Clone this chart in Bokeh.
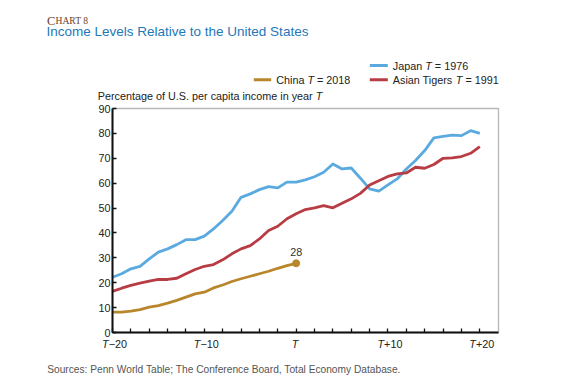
from bokeh.plotting import figure
from bokeh.models import Range1d, FixedTicker, Label, Arrow, BoxAnnotation
from bokeh.embed import file_html
from bokeh.resources import INLINE

# ---------------- data ----------------
years_long = list(range(-20, 21))
years_china = list(range(-20, 1))
japan = [22.2, 23.6, 25.6, 26.6, 29.6, 32.3, 33.6, 35.3, 37.3, 37.3, 38.7,
         41.6, 45.0, 48.7, 54.3, 55.7, 57.4, 58.6, 58.1, 60.4, 60.4,
         61.3, 62.6, 64.4, 67.7, 65.7, 66.1, 62.0, 57.7, 56.8, 59.3,
         61.7, 65.7, 69.1, 73.1, 78.2, 78.8, 79.3, 79.1, 81.1, 80.0]
tigers = [16.5, 17.8, 18.9, 19.8, 20.6, 21.3, 21.3, 21.8, 23.6, 25.3, 26.6,
          27.3, 29.2, 31.6, 33.6, 34.9, 37.6, 41.0, 42.7, 45.7, 47.7,
          49.4, 50.1, 51.0, 50.1, 51.9, 53.7, 55.9, 59.3, 61.0, 62.7,
          63.7, 64.1, 66.4, 66.0, 67.5, 70.0, 70.2, 70.7, 72.0, 74.7]
china = [8.2, 8.2, 8.6, 9.2, 10.2, 10.8, 11.8, 12.9, 14.2, 15.5, 16.2,
         17.9, 19.1, 20.5, 21.6, 22.6, 23.6, 24.6, 25.8, 26.9, 27.8]
x_tick_values = [-20, -10, 0, 10, 20]
x_tick_suffix = ["\u221220", "\u221210", "", "+10", "+20"]
y_ticks = [0, 10, 20, 30, 40, 50, 60, 70, 80, 90]
x_lo, x_hi = -20, 20
y_lo, y_hi = 0, 90

C_CHINA = "#b8862b"
C_JAPAN = "#5aaae0"
C_TIGER = "#b83c44"
C_TITLE = "#2378b8"
FONT = "Liberation Sans"

# ---------------- layout (page px) ----------------
W, H = 572, 378
FL, FR, FT, FB = 30, W - 2, 2, H - 2     # frame covering (almost) all of the canvas
PL, PR, PT, PB = 112, 498, 108, 332       # visible plot box
k = (479.3 - PL) / (x_hi - x_lo)          # px per year
s = (PB - PT) / (y_hi - y_lo)             # px per unit

def X(px):
    return x_lo + (px - PL) / k

def Y(py):
    return y_lo + (PB - py) / s

p = figure(width=W, height=H, output_backend="svg", toolbar_location=None,
           x_range=Range1d(X(FL), X(FR)), y_range=Range1d(Y(FB), Y(FT)),
           min_border_left=FL, min_border_right=W - FR,
           min_border_top=FT, min_border_bottom=H - FB)
p.background_fill_color = "white"
p.border_fill_color = "white"
p.outline_line_color = None
p.xgrid.visible = False
p.ygrid.visible = False

x_right = X(PR)

# plot box
p.add_layout(BoxAnnotation(left=x_lo, right=x_right, bottom=y_lo, top=y_hi,
                           fill_color=None, line_color="#111111", line_width=1.3))

# axes (library axes pinned to the plot box)
p.yaxis.fixed_location = x_lo
p.yaxis.bounds = (y_lo, y_hi)
p.yaxis.ticker = FixedTicker(ticks=y_ticks)
p.yaxis.major_tick_in = 4
p.yaxis.major_tick_out = 0
p.yaxis.minor_tick_line_color = None
p.yaxis.axis_line_width = 2
p.yaxis.axis_line_color = "#111111"
p.yaxis.major_tick_line_color = "#111111"
p.yaxis.major_tick_line_width = 1.3
p.yaxis.major_label_standoff = 2
p.yaxis.major_label_text_font = FONT
p.yaxis.major_label_text_font_size = "10.8px"
p.yaxis.major_label_text_color = "#222222"

p.xaxis.fixed_location = y_lo
p.xaxis.bounds = (x_lo, x_right)
p.xaxis.ticker = FixedTicker(ticks=[], minor_ticks=list(range(x_lo, x_hi + 1, 2)))
p.xaxis.minor_tick_in = 4
p.xaxis.minor_tick_out = 0
p.xaxis.minor_tick_line_color = "#111111"
p.xaxis.minor_tick_line_width = 1.3
p.xaxis.axis_line_width = 2
p.xaxis.axis_line_color = "#111111"
p.xaxis.major_label_standoff = 0

# series
p.line(years_long, japan, line_color=C_JAPAN, line_width=2.8, line_join="round")
p.line(years_long, tigers, line_color=C_TIGER, line_width=2.8, line_join="round")
p.line(years_china, china, line_color=C_CHINA, line_width=2.8, line_join="round")
p.scatter([years_china[-1]], [china[-1]], size=7, color=C_CHINA)

# ---------------- text helpers ----------------
AW = {' ': 278, '.': 278, ';': 278, ',': 278, ':': 278, '=': 584, '+': 584,
      '\u2212': 584, 'A': 667, 'B': 667, 'C': 722, 'D': 722, 'E': 667,
      'J': 500, 'P': 667, 'S': 667, 'T': 611, 'U': 722, 'W': 944,
      'I': 278, 'L': 556, 'R': 722, 'a': 556, 'b': 556, 'c': 500, 'd': 556,
      'e': 556, 'f': 278, 'g': 556, 'h': 556, 'i': 222, 'j': 222, 'k': 500,
      'l': 222, 'm': 833, 'n': 556, 'o': 556, 'p': 556, 'q': 556, 'r': 333,
      's': 500, 't': 278, 'u': 556, 'v': 500, 'w': 722, 'x': 500, 'y': 500,
      'z': 500}

def tw(t, size):
    return sum(AW.get(c, 556) for c in t) * size / 1000.0

def rich(x_px, y_px, parts, size, color="#222222", center=False):
    total = sum(tw(t, size) for t, _ in parts)
    x = x_px - total / 2.0 if center else x_px
    for text, italic in parts:
        stripped = text.lstrip(" ")
        lead = tw(text[:len(text) - len(stripped)], size)
        if stripped.strip():
            p.add_layout(Label(x=X(x + lead), y=Y(y_px), text=stripped.rstrip(" "),
                               text_font=FONT, text_font_size=f"{size}px",
                               text_font_style="italic" if italic else "normal",
                               text_color=color, text_align="left",
                               text_baseline="middle"))
        x += tw(text, size)

# title block (small-caps "Chart 8")
p.add_layout(Label(x=X(46.5), y=Y(20), text="C", text_font="Liberation Serif",
                   text_font_size="12.5px", text_color="#6a3f2c",
                   text_baseline="alphabetic"))
p.add_layout(Label(x=X(55.0), y=Y(20), text="HART 8", text_font="Liberation Serif",
                   text_font_size="9.6px", text_color="#6a3f2c",
                   text_baseline="alphabetic"))
rich(46, 30.5, [("Income Levels Relative to the United States", False)], 13.5, C_TITLE)
rich(97.3, 95.7, [("Percentage of U.S. per capita income in year ", False), ("T", True)], 10.8)
rich(46.7, 369, [("Sources: Penn World Table; The Conference Board, Total Economy Database.", False)],
     10.2, "#555555")

# x tick labels
for v, suf in zip(x_tick_values, x_tick_suffix):
    cx = PL + (v - x_lo) * k + (2.0 if suf else -1.0)
    rich(cx, 343.3, [("T", True), (suf, False)], 10.8, center=True)

# legend
legend_items = [
    (253.3, 270.7, 79.3, C_CHINA, [("China ", False), ("T", True), (" = 2018", False)]),
    (369.3, 387.3, 65.0, C_JAPAN, [("Japan ", False), ("T", True), (" = 1976", False)]),
    (369.3, 387.3, 79.3, C_TIGER, [("Asian Tigers ", False), ("T", True), (" = 1991", False)]),
]
for xa, xb, yy, col, parts in legend_items:
    p.add_layout(Arrow(x_start=X(xa), y_start=Y(yy), x_end=X(xb), y_end=Y(yy),
                       start=None, end=None, line_color=col, line_width=3))
    rich(xb + 5, yy, parts, 10.8)

# end-value label for China
p.add_layout(Label(x=years_china[-1], y=china[-1] + 11.7 / s,
                   text=f"{round(china[-1])}", text_font=FONT, text_font_size="10.8px",
                   text_color="#333333", text_align="center", text_baseline="middle"))

open("out.html", "w").write(file_html(p, INLINE))
